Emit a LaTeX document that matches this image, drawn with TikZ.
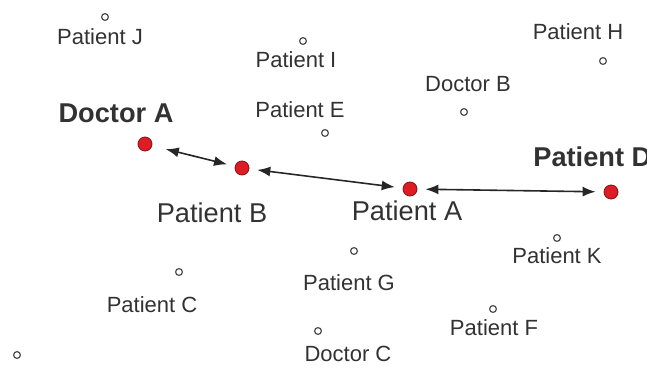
\documentclass[tikz,border=0pt]{standalone}
\usepackage{fontspec}
\setmainfont{Liberation Sans}
\usetikzlibrary{arrows.meta}

\definecolor{dotred}{RGB}{222,28,36}
\definecolor{labelgray}{RGB}{50,50,50}

\tikzset{
    dot/.style={circle, draw=dotred!60!black, line width=0.4pt, fill=dotred, inner sep=0pt, minimum size=7pt},
    ring/.style={circle, draw=black!70, line width=0.6pt, fill=white, inner sep=0pt, minimum size=3.4pt},
    small/.style={text=labelgray, font=\fontsize{11}{13}\selectfont, inner sep=0pt},
    big/.style={text=labelgray, font=\fontsize{13.6}{16}\selectfont, inner sep=0pt},
    link/.style={{Latex[length=6.5pt,width=5pt]}-{Latex[length=6.5pt,width=5pt]}, line width=0.8pt, black!85, shorten <=4pt, shorten >=4pt}
}

\begin{document}
\begin{tikzpicture}[x=0.5pt, y=-0.5pt]

    \clip (0,0) rectangle (647,391);
    \useasboundingbox (0,0) rectangle (647,391);

    % others around the chain
    \foreach \name/\x/\y in {ringJ/105/17, ringI/303/41, ringH/603/61, ringDB/464/112,
                             ringE/325/133, ringK/557/238, ringG/354/251, ringC/179/272,
                             ringF/493/309, ringDC/318/331, ringX/17/355}
        \node[ring] (\name) at (\x,\y) {};

    \foreach \name/\x/\y/\txt in {labJ/100/37/Patient J, labI/296/60/Patient I,
                                  labH/578/32/Patient H, labDB/468/84/Doctor B,
                                  labE/300/110/Patient E, labK/557/256/Patient K,
                                  labG/349/283/Patient G, labC/152/305/Patient C,
                                  labF/494/328/Patient F, labDC/348/354/Doctor C}
        \node[small] (\name) at (\x,\y) {\txt};

    % the chain
    \node[dot] (docA) at (145,144) {};
    \node[dot] (patB) at (242,168) {};
    \node[dot] (patA) at (410,189) {};
    \node[dot] (patD) at (611,192) {};

    \node[big] (labDA) at (116,113) {\bfseries Doctor A};
    \node[big] (labPB) at (212,213) {Patient B};
    \node[big] (labPA) at (407,211) {Patient A};
    \node[big, anchor=west] (labPD) at (533,157) {\bfseries Patient D};

    \draw[link, shorten <=7pt] (docA) -- (patB);
    \draw[link] (patB) -- (patA);
    \draw[link] (patA) -- (patD);

\end{tikzpicture}
\end{document}
